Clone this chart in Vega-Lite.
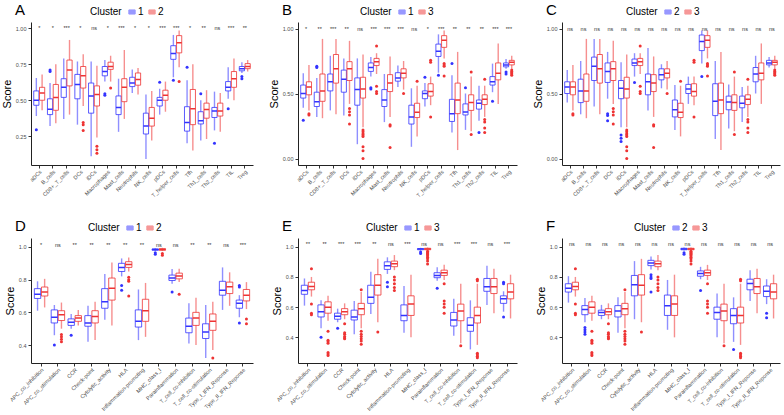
{
"$schema":"https://vega.github.io/schema/vega-lite/v6.json",
"padding":{"left":1,"top":3,"right":2,"bottom":0},
"background":"white",
"bounds":"flush",
"columns":3,
"spacing":{"row":73,"column":45},
"datasets":{
"imm":[
{"c":"aDCs","k":1,"lo":0.39,"q1":0.465,"md":0.5,"q3":0.565,"hi":0.655},
{"c":"B_cells","k":1,"lo":0.32,"q1":0.4,"md":0.437,"q3":0.51,"hi":0.62},
{"c":"CD8+_T_cells","k":1,"lo":0.37,"q1":0.52,"md":0.59,"q3":0.65,"hi":0.79},
{"c":"DCs","k":1,"lo":0.33,"q1":0.51,"md":0.61,"q3":0.68,"hi":0.77},
{"c":"iDCs","k":1,"lo":0.11,"q1":0.41,"md":0.53,"q3":0.62,"hi":0.77},
{"c":"Macrophages","k":1,"lo":0.63,"q1":0.67,"md":0.7,"q3":0.735,"hi":0.78},
{"c":"Mast_cells","k":1,"lo":0.28,"q1":0.4,"md":0.45,"q3":0.53,"hi":0.65},
{"c":"Neutrophils","k":1,"lo":0.55,"q1":0.595,"md":0.62,"q3":0.66,"hi":0.715},
{"c":"NK_cells","k":1,"lo":0.09,"q1":0.265,"md":0.32,"q3":0.41,"hi":0.54},
{"c":"pDCs","k":1,"lo":0.4,"q1":0.46,"md":0.5,"q3":0.52,"hi":0.58},
{"c":"T_helper_cells","k":1,"lo":0.66,"q1":0.785,"md":0.825,"q3":0.88,"hi":0.955},
{"c":"Tfh","k":1,"lo":0.2,"q1":0.285,"md":0.345,"q3":0.455,"hi":0.64},
{"c":"Th1_cells","k":1,"lo":0.22,"q1":0.335,"md":0.357,"q3":0.42,"hi":0.5},
{"c":"Th2_cells","k":1,"lo":0.29,"q1":0.38,"md":0.425,"q3":0.45,"hi":0.56},
{"c":"TIL","k":1,"lo":0.51,"q1":0.565,"md":0.59,"q3":0.63,"hi":0.73},
{"c":"Treg","k":1,"lo":0.69,"q1":0.705,"md":0.72,"q3":0.735,"hi":0.765},
{"c":"aDCs","k":2,"lo":0.43,"q1":0.5,"md":0.55,"q3":0.59,"hi":0.68},
{"c":"B_cells","k":2,"lo":0.34,"q1":0.43,"md":0.52,"q3":0.61,"hi":0.75},
{"c":"CD8+_T_cells","k":2,"lo":0.4,"q1":0.6,"md":0.71,"q3":0.78,"hi":0.92},
{"c":"DCs","k":2,"lo":0.46,"q1":0.585,"md":0.67,"q3":0.735,"hi":0.82},
{"c":"iDCs","k":2,"lo":0.24,"q1":0.46,"md":0.54,"q3":0.6,"hi":0.74},
{"c":"Macrophages","k":2,"lo":0.63,"q1":0.715,"md":0.735,"q3":0.765,"hi":0.81},
{"c":"Mast_cells","k":2,"lo":0.37,"q1":0.49,"md":0.59,"q3":0.65,"hi":0.85},
{"c":"Neutrophils","k":2,"lo":0.54,"q1":0.605,"md":0.645,"q3":0.69,"hi":0.725},
{"c":"NK_cells","k":2,"lo":0.22,"q1":0.32,"md":0.375,"q3":0.45,"hi":0.565},
{"c":"pDCs","k":2,"lo":0.42,"q1":0.5,"md":0.535,"q3":0.57,"hi":0.63},
{"c":"T_helper_cells","k":2,"lo":0.73,"q1":0.83,"md":0.9,"q3":0.95,"hi":0.985},
{"c":"Tfh","k":2,"lo":0.15,"q1":0.33,"md":0.44,"q3":0.575,"hi":0.75},
{"c":"Th1_cells","k":2,"lo":0.23,"q1":0.375,"md":0.435,"q3":0.48,"hi":0.57},
{"c":"Th2_cells","k":2,"lo":0.28,"q1":0.39,"md":0.425,"q3":0.48,"hi":0.55},
{"c":"TIL","k":2,"lo":0.5,"q1":0.59,"md":0.65,"q3":0.7,"hi":0.79},
{"c":"Treg","k":2,"lo":0.7,"q1":0.72,"md":0.735,"q3":0.755,"hi":0.78},
{"c":"aDCs","k":3,"lo":0.37,"q1":0.49,"md":0.55,"q3":0.59,"hi":0.72},
{"c":"B_cells","k":3,"lo":0.31,"q1":0.44,"md":0.52,"q3":0.65,"hi":0.92},
{"c":"CD8+_T_cells","k":3,"lo":0.34,"q1":0.58,"md":0.69,"q3":0.8,"hi":0.92},
{"c":"DCs","k":3,"lo":0.42,"q1":0.6,"md":0.69,"q3":0.745,"hi":0.905},
{"c":"iDCs","k":3,"lo":0.24,"q1":0.465,"md":0.535,"q3":0.625,"hi":0.8},
{"c":"Macrophages","k":3,"lo":0.65,"q1":0.715,"md":0.745,"q3":0.77,"hi":0.81},
{"c":"Mast_cells","k":3,"lo":0.32,"q1":0.515,"md":0.58,"q3":0.645,"hi":0.785},
{"c":"Neutrophils","k":3,"lo":0.53,"q1":0.62,"md":0.655,"q3":0.69,"hi":0.75},
{"c":"NK_cells","k":3,"lo":0.17,"q1":0.315,"md":0.355,"q3":0.425,"hi":0.56},
{"c":"pDCs","k":3,"lo":0.41,"q1":0.48,"md":0.515,"q3":0.575,"hi":0.63},
{"c":"T_helper_cells","k":3,"lo":0.77,"q1":0.855,"md":0.91,"q3":0.945,"hi":0.985},
{"c":"Tfh","k":3,"lo":0.065,"q1":0.345,"md":0.45,"q3":0.58,"hi":0.82},
{"c":"Th1_cells","k":3,"lo":0.21,"q1":0.37,"md":0.43,"q3":0.49,"hi":0.63},
{"c":"Th2_cells","k":3,"lo":0.32,"q1":0.415,"md":0.455,"q3":0.49,"hi":0.56},
{"c":"TIL","k":3,"lo":0.42,"q1":0.605,"md":0.655,"q3":0.735,"hi":0.885},
{"c":"Treg","k":3,"lo":0.69,"q1":0.72,"md":0.74,"q3":0.755,"hi":0.79}
],
"immOut":[
{"c":"aDCs","k":1,"v":0.295},{"c":"B_cells","k":1,"v":0.7},{"c":"B_cells","k":1,"v":0.71},
{"c":"Macrophages","k":1,"v":0.545},{"c":"Macrophages","k":1,"v":0.535},{"c":"pDCs","k":1,"v":0.625},
{"c":"T_helper_cells","k":1,"v":0.64},{"c":"Tfh","k":1,"v":0.73},{"c":"Th1_cells","k":1,"v":0.545},
{"c":"Th2_cells","k":1,"v":0.2},{"c":"TIL","k":1,"v":0.44},{"c":"Treg","k":1,"v":0.665},{"c":"Treg","k":1,"v":0.65},
{"c":"DCs","k":2,"v":0.345},{"c":"DCs","k":2,"v":0.33},{"c":"DCs","k":2,"v":0.29},
{"c":"iDCs","k":2,"v":0.18},{"c":"iDCs","k":2,"v":0.155},{"c":"iDCs","k":2,"v":0.13},
{"c":"Macrophages","k":2,"v":0.585},{"c":"T_helper_cells","k":2,"v":0.63},
{"c":"aDCs","k":3,"v":0.345},{"c":"aDCs","k":3,"v":0.335},
{"c":"DCs","k":3,"v":0.385},{"c":"DCs","k":3,"v":0.36},{"c":"DCs","k":3,"v":0.335},{"c":"DCs","k":3,"v":0.265},
{"c":"iDCs","k":3,"v":0.22},{"c":"iDCs","k":3,"v":0.205},{"c":"iDCs","k":3,"v":0.19},{"c":"iDCs","k":3,"v":0.18},{"c":"iDCs","k":3,"v":0.17},{"c":"iDCs","k":3,"v":0.09},{"c":"iDCs","k":3,"v":0.06},{"c":"iDCs","k":3,"v":0.0},
{"c":"Macrophages","k":3,"v":0.865},{"c":"Macrophages","k":3,"v":0.555},{"c":"Macrophages","k":3,"v":0.515},{"c":"Macrophages","k":3,"v":0.5},
{"c":"Mast_cells","k":3,"v":0.26},{"c":"Mast_cells","k":3,"v":0.25},{"c":"Mast_cells","k":3,"v":0.085},
{"c":"Neutrophils","k":3,"v":0.5},{"c":"NK_cells","k":3,"v":0.595},
{"c":"pDCs","k":3,"v":0.755},{"c":"pDCs","k":3,"v":0.74},{"c":"pDCs","k":3,"v":0.32},
{"c":"T_helper_cells","k":3,"v":0.73},{"c":"T_helper_cells","k":3,"v":0.72},{"c":"T_helper_cells","k":3,"v":0.71},{"c":"T_helper_cells","k":3,"v":0.635},
{"c":"Th1_cells","k":3,"v":0.665},{"c":"Th1_cells","k":3,"v":0.185},
{"c":"Th2_cells","k":3,"v":0.61},{"c":"Th2_cells","k":3,"v":0.3},{"c":"Th2_cells","k":3,"v":0.28},{"c":"Th2_cells","k":3,"v":0.235},{"c":"Th2_cells","k":3,"v":0.2},
{"c":"Treg","k":3,"v":0.68},{"c":"Treg","k":3,"v":0.67},{"c":"Treg","k":3,"v":0.66},{"c":"Treg","k":3,"v":0.65},{"c":"Treg","k":3,"v":0.64}
],
"fun":[
{"c":"APC_co_inhibition","k":1,"lo":0.61,"q1":0.685,"md":0.71,"q3":0.745,"hi":0.79},
{"c":"APC_co_stimulation","k":1,"lo":0.46,"q1":0.535,"md":0.57,"q3":0.615,"hi":0.645},
{"c":"CCR","k":1,"lo":0.5,"q1":0.52,"md":0.54,"q3":0.56,"hi":0.59},
{"c":"Check-point","k":1,"lo":0.42,"q1":0.515,"md":0.535,"q3":0.58,"hi":0.64},
{"c":"Cytolytic_activity","k":1,"lo":0.555,"q1":0.625,"md":0.665,"q3":0.745,"hi":0.835},
{"c":"HLA","k":1,"lo":0.82,"q1":0.85,"md":0.875,"q3":0.9,"hi":0.93},
{"c":"Inflammation-promoting","k":1,"lo":0.43,"q1":0.51,"md":0.545,"q3":0.615,"hi":0.74},
{"c":"MHC_class_I","k":1,"lo":0.975,"q1":0.98,"md":0.985,"q3":0.988,"hi":0.993},
{"c":"Parainflammation","k":1,"lo":0.775,"q1":0.795,"md":0.81,"q3":0.828,"hi":0.865},
{"c":"T_cell_co-inhibition","k":1,"lo":0.41,"q1":0.475,"md":0.515,"q3":0.565,"hi":0.655},
{"c":"T_cell_co-stimulation","k":1,"lo":0.32,"q1":0.44,"md":0.48,"q3":0.53,"hi":0.645},
{"c":"Type_I_IFN_Reponse","k":1,"lo":0.615,"q1":0.705,"md":0.735,"q3":0.79,"hi":0.875},
{"c":"Type_II_IFN_Reponse","k":1,"lo":0.57,"q1":0.625,"md":0.655,"q3":0.675,"hi":0.705},
{"c":"APC_co_inhibition","k":2,"lo":0.63,"q1":0.7,"md":0.725,"q3":0.755,"hi":0.805},
{"c":"APC_co_stimulation","k":2,"lo":0.5,"q1":0.55,"md":0.585,"q3":0.61,"hi":0.66},
{"c":"CCR","k":2,"lo":0.52,"q1":0.545,"md":0.565,"q3":0.58,"hi":0.615},
{"c":"Check-point","k":2,"lo":0.43,"q1":0.535,"md":0.575,"q3":0.61,"hi":0.665},
{"c":"Cytolytic_activity","k":2,"lo":0.52,"q1":0.675,"md":0.748,"q3":0.81,"hi":0.905},
{"c":"HLA","k":2,"lo":0.85,"q1":0.875,"md":0.893,"q3":0.91,"hi":0.935},
{"c":"Inflammation-promoting","k":2,"lo":0.45,"q1":0.545,"md":0.61,"q3":0.68,"hi":0.78},
{"c":"MHC_class_I","k":2,"lo":0.975,"q1":0.98,"md":0.985,"q3":0.99,"hi":0.995},
{"c":"Parainflammation","k":2,"lo":0.785,"q1":0.805,"md":0.823,"q3":0.84,"hi":0.867},
{"c":"T_cell_co-inhibition","k":2,"lo":0.4,"q1":0.52,"md":0.565,"q3":0.6,"hi":0.69},
{"c":"T_cell_co-stimulation","k":2,"lo":0.37,"q1":0.49,"md":0.545,"q3":0.59,"hi":0.665},
{"c":"Type_I_IFN_Reponse","k":2,"lo":0.64,"q1":0.715,"md":0.757,"q3":0.785,"hi":0.845},
{"c":"Type_II_IFN_Reponse","k":2,"lo":0.62,"q1":0.67,"md":0.705,"q3":0.74,"hi":0.785},
{"c":"APC_co_inhibition","k":3,"lo":0.67,"q1":0.715,"md":0.737,"q3":0.765,"hi":0.8},
{"c":"APC_co_stimulation","k":3,"lo":0.51,"q1":0.56,"md":0.6,"q3":0.635,"hi":0.675},
{"c":"CCR","k":3,"lo":0.52,"q1":0.55,"md":0.57,"q3":0.59,"hi":0.625},
{"c":"Check-point","k":3,"lo":0.46,"q1":0.55,"md":0.59,"q3":0.625,"hi":0.7},
{"c":"Cytolytic_activity","k":3,"lo":0.5,"q1":0.68,"md":0.745,"q3":0.815,"hi":0.92},
{"c":"HLA","k":3,"lo":0.845,"q1":0.868,"md":0.887,"q3":0.905,"hi":0.945},
{"c":"Inflammation-promoting","k":3,"lo":0.4,"q1":0.545,"md":0.62,"q3":0.675,"hi":0.815},
{"c":"MHC_class_I","k":3,"lo":0.975,"q1":0.98,"md":0.985,"q3":0.99,"hi":0.995},
{"c":"Parainflammation","k":3,"lo":0.78,"q1":0.81,"md":0.828,"q3":0.845,"hi":0.88},
{"c":"T_cell_co-inhibition","k":3,"lo":0.36,"q1":0.51,"md":0.575,"q3":0.62,"hi":0.755},
{"c":"T_cell_co-stimulation","k":3,"lo":0.35,"q1":0.495,"md":0.545,"q3":0.6,"hi":0.755},
{"c":"Type_I_IFN_Reponse","k":3,"lo":0.56,"q1":0.69,"md":0.735,"q3":0.79,"hi":0.855},
{"c":"Type_II_IFN_Reponse","k":3,"lo":0.525,"q1":0.655,"md":0.7,"q3":0.755,"hi":0.815}
],
"funOut":[
{"c":"APC_co_stimulation","k":1,"v":0.4},{"c":"CCR","k":1,"v":0.46},{"c":"HLA","k":1,"v":0.765},{"c":"HLA","k":1,"v":0.735},
{"c":"MHC_class_I","k":1,"v":0.965},{"c":"MHC_class_I","k":1,"v":0.955},{"c":"Parainflammation","k":1,"v":0.725},
{"c":"Type_II_IFN_Reponse","k":1,"v":0.765},{"c":"Type_II_IFN_Reponse","k":1,"v":0.755},{"c":"Type_II_IFN_Reponse","k":1,"v":0.535},
{"c":"APC_co_stimulation","k":2,"v":0.465},{"c":"APC_co_stimulation","k":2,"v":0.45},{"c":"APC_co_stimulation","k":2,"v":0.435},{"c":"APC_co_stimulation","k":2,"v":0.42},
{"c":"HLA","k":2,"v":0.815},{"c":"HLA","k":2,"v":0.8},{"c":"HLA","k":2,"v":0.79},{"c":"HLA","k":2,"v":0.7},
{"c":"MHC_class_I","k":2,"v":0.96},{"c":"MHC_class_I","k":2,"v":0.95},{"c":"Parainflammation","k":2,"v":0.71},
{"c":"T_cell_co-stimulation","k":2,"v":0.32},{"c":"Type_II_IFN_Reponse","k":2,"v":0.56},{"c":"Type_II_IFN_Reponse","k":2,"v":0.53},
{"c":"APC_co_inhibition","k":3,"v":0.855},{"c":"APC_co_inhibition","k":3,"v":0.62},{"c":"APC_co_inhibition","k":3,"v":0.56},{"c":"APC_co_inhibition","k":3,"v":0.55},
{"c":"APC_co_stimulation","k":3,"v":0.44},{"c":"APC_co_stimulation","k":3,"v":0.38},{"c":"APC_co_stimulation","k":3,"v":0.37},{"c":"APC_co_stimulation","k":3,"v":0.36},{"c":"APC_co_stimulation","k":3,"v":0.3},{"c":"APC_co_stimulation","k":3,"v":0.29},{"c":"APC_co_stimulation","k":3,"v":0.28},
{"c":"CCR","k":3,"v":0.49},{"c":"CCR","k":3,"v":0.43},{"c":"CCR","k":3,"v":0.42},{"c":"CCR","k":3,"v":0.405},{"c":"CCR","k":3,"v":0.395},{"c":"CCR","k":3,"v":0.39},
{"c":"Check-point","k":3,"v":0.715},{"c":"Check-point","k":3,"v":0.44},{"c":"Check-point","k":3,"v":0.42},{"c":"Check-point","k":3,"v":0.405},{"c":"Check-point","k":3,"v":0.39},{"c":"Check-point","k":3,"v":0.375},{"c":"Check-point","k":3,"v":0.355},
{"c":"Cytolytic_activity","k":3,"v":0.435},
{"c":"HLA","k":3,"v":0.8},{"c":"HLA","k":3,"v":0.78},{"c":"HLA","k":3,"v":0.755},{"c":"HLA","k":3,"v":0.73},{"c":"HLA","k":3,"v":0.71},
{"c":"MHC_class_I","k":3,"v":0.97},{"c":"MHC_class_I","k":3,"v":0.962},{"c":"MHC_class_I","k":3,"v":0.955},{"c":"MHC_class_I","k":3,"v":0.948},{"c":"MHC_class_I","k":3,"v":0.94},{"c":"MHC_class_I","k":3,"v":0.93},{"c":"MHC_class_I","k":3,"v":0.92},{"c":"MHC_class_I","k":3,"v":0.905},{"c":"MHC_class_I","k":3,"v":0.885},
{"c":"Parainflammation","k":3,"v":0.755},{"c":"Parainflammation","k":3,"v":0.64},{"c":"Parainflammation","k":3,"v":0.62},{"c":"Parainflammation","k":3,"v":0.6},{"c":"Parainflammation","k":3,"v":0.56},
{"c":"T_cell_co-inhibition","k":3,"v":0.345},
{"c":"T_cell_co-stimulation","k":3,"v":0.785},{"c":"T_cell_co-stimulation","k":3,"v":0.775},{"c":"T_cell_co-stimulation","k":3,"v":0.295},{"c":"T_cell_co-stimulation","k":3,"v":0.285},{"c":"T_cell_co-stimulation","k":3,"v":0.275},{"c":"T_cell_co-stimulation","k":3,"v":0.265}
],
"sig":[
{"p":"A","c":"aDCs","s":"*"},{"p":"A","c":"B_cells","s":"*"},{"p":"A","c":"CD8+_T_cells","s":"***"},{"p":"A","c":"DCs","s":"*"},{"p":"A","c":"iDCs","s":"ns"},{"p":"A","c":"Macrophages","s":"*"},{"p":"A","c":"Mast_cells","s":"***"},{"p":"A","c":"Neutrophils","s":"*"},{"p":"A","c":"NK_cells","s":"*"},{"p":"A","c":"pDCs","s":"***"},{"p":"A","c":"T_helper_cells","s":"***"},{"p":"A","c":"Tfh","s":"*"},{"p":"A","c":"Th1_cells","s":"**"},{"p":"A","c":"Th2_cells","s":"ns"},{"p":"A","c":"TIL","s":"***"},{"p":"A","c":"Treg","s":"**"},
{"p":"B","c":"aDCs","s":"*"},{"p":"B","c":"B_cells","s":"**"},{"p":"B","c":"CD8+_T_cells","s":"***"},{"p":"B","c":"DCs","s":"**"},{"p":"B","c":"iDCs","s":"ns"},{"p":"B","c":"Macrophages","s":"***"},{"p":"B","c":"Mast_cells","s":"***"},{"p":"B","c":"Neutrophils","s":"***"},{"p":"B","c":"NK_cells","s":"ns"},{"p":"B","c":"pDCs","s":"*"},{"p":"B","c":"T_helper_cells","s":"***"},{"p":"B","c":"Tfh","s":"**"},{"p":"B","c":"Th1_cells","s":"**"},{"p":"B","c":"Th2_cells","s":"**"},{"p":"B","c":"TIL","s":"***"},{"p":"B","c":"Treg","s":"***"},
{"p":"C","c":"aDCs","s":"ns"},{"p":"C","c":"B_cells","s":"ns"},{"p":"C","c":"CD8+_T_cells","s":"ns"},{"p":"C","c":"DCs","s":"ns"},{"p":"C","c":"iDCs","s":"ns"},{"p":"C","c":"Macrophages","s":"ns"},{"p":"C","c":"Mast_cells","s":"ns"},{"p":"C","c":"Neutrophils","s":"ns"},{"p":"C","c":"NK_cells","s":"ns"},{"p":"C","c":"pDCs","s":"ns"},{"p":"C","c":"T_helper_cells","s":"ns"},{"p":"C","c":"Tfh","s":"ns"},{"p":"C","c":"Th1_cells","s":"ns"},{"p":"C","c":"Th2_cells","s":"ns"},{"p":"C","c":"TIL","s":"ns"},{"p":"C","c":"Treg","s":"ns"},
{"p":"D","c":"APC_co_inhibition","s":"*"},{"p":"D","c":"APC_co_stimulation","s":"ns"},{"p":"D","c":"CCR","s":"**"},{"p":"D","c":"Check-point","s":"**"},{"p":"D","c":"Cytolytic_activity","s":"**"},{"p":"D","c":"HLA","s":"**"},{"p":"D","c":"Inflammation-promoting","s":"**"},{"p":"D","c":"MHC_class_I","s":"ns"},{"p":"D","c":"Parainflammation","s":"ns"},{"p":"D","c":"T_cell_co-inhibition","s":"**"},{"p":"D","c":"T_cell_co-stimulation","s":"**"},{"p":"D","c":"Type_I_IFN_Reponse","s":"ns"},{"p":"D","c":"Type_II_IFN_Reponse","s":"***"},
{"p":"E","c":"APC_co_inhibition","s":"**"},{"p":"E","c":"APC_co_stimulation","s":"**"},{"p":"E","c":"CCR","s":"***"},{"p":"E","c":"Check-point","s":"***"},{"p":"E","c":"Cytolytic_activity","s":"**"},{"p":"E","c":"HLA","s":"ns"},{"p":"E","c":"Inflammation-promoting","s":"***"},{"p":"E","c":"MHC_class_I","s":"ns"},{"p":"E","c":"Parainflammation","s":"ns"},{"p":"E","c":"T_cell_co-inhibition","s":"***"},{"p":"E","c":"T_cell_co-stimulation","s":"***"},{"p":"E","c":"Type_I_IFN_Reponse","s":"ns"},{"p":"E","c":"Type_II_IFN_Reponse","s":"***"},
{"p":"F","c":"APC_co_inhibition","s":"ns"},{"p":"F","c":"APC_co_stimulation","s":"ns"},{"p":"F","c":"CCR","s":"ns"},{"p":"F","c":"Check-point","s":"ns"},{"p":"F","c":"Cytolytic_activity","s":"ns"},{"p":"F","c":"HLA","s":"ns"},{"p":"F","c":"Inflammation-promoting","s":"ns"},{"p":"F","c":"MHC_class_I","s":"ns"},{"p":"F","c":"Parainflammation","s":"ns"},{"p":"F","c":"T_cell_co-inhibition","s":"ns"},{"p":"F","c":"T_cell_co-stimulation","s":"ns"},{"p":"F","c":"Type_I_IFN_Reponse","s":"ns"},{"p":"F","c":"Type_II_IFN_Reponse","s":"ns"}
]
},
"resolve":{"scale":{"x":"independent","y":"independent","xOffset":"independent","stroke":"independent","fill":"independent"},"legend":{"stroke":"independent","fill":"independent"}},
"concat":[
{"width":222,"height":143,
 "title":{"text":"A","dx":-16},
 "layer":[
  {"data":{"name":"imm"},"transform":[{"filter":{"field":"k","oneOf":[1,2]}}],"mark":{"type":"rule","strokeWidth":1.4,"strokeOpacity":0.55},
   "encoding":{"x":{"field":"c","type":"nominal","title":null,"scale":{"domain":["aDCs","B_cells","CD8+_T_cells","DCs","iDCs","Macrophages","Mast_cells","Neutrophils","NK_cells","pDCs","T_helper_cells","Tfh","Th1_cells","Th2_cells","TIL","Treg"],"paddingInner":0.2,"paddingOuter":0.2}},
    "xOffset":{"field":"k","type":"nominal","scale":{"domain":[1,2],"paddingInner":0.1}},
    "y":{"field":"lo","type":"quantitative","title":"Score","scale":{"domain":[0.049,1.045],"nice":false,"zero":false},"axis":{"values":[0.25,0.5,0.75,1],"format":".2f"}},
    "y2":{"field":"hi"},
    "stroke":{"field":"k","type":"nominal","scale":{"domain":[1,2],"range":["#3333ff","#ee3333"]},"legend":{"title":"Cluster","orient":"none","legendX":59,"legendY":-15}}}},
  {"data":{"name":"imm"},"transform":[{"filter":{"field":"k","oneOf":[1,2]}}],"mark":{"type":"bar","fill":"white","strokeWidth":1,"strokeOpacity":0.8},
   "encoding":{"x":{"field":"c","type":"nominal","title":null},"xOffset":{"field":"k","type":"nominal"},
    "y":{"field":"q1","type":"quantitative","title":"Score"},"y2":{"field":"q3"},
    "stroke":{"field":"k","type":"nominal"}}},
  {"data":{"name":"imm"},"transform":[{"filter":{"field":"k","oneOf":[1,2]}}],"mark":{"type":"bar","fillOpacity":0,"strokeWidth":1.5},
   "encoding":{"x":{"field":"c","type":"nominal","title":null},"xOffset":{"field":"k","type":"nominal"},
    "y":{"field":"md","type":"quantitative","title":"Score"},"y2":{"field":"md"},
    "stroke":{"field":"k","type":"nominal"}}},
  {"data":{"name":"immOut"},"transform":[{"filter":{"field":"k","oneOf":[1,2]}}],"mark":{"type":"circle","size":9,"opacity":1},
   "encoding":{"x":{"field":"c","type":"nominal","title":null},"xOffset":{"field":"k","type":"nominal"},
    "y":{"field":"v","type":"quantitative","title":"Score"},
    "fill":{"field":"k","type":"nominal","scale":{"domain":[1,2],"range":["#3333ff","#ee3333"]},"legend":null}}},
  {"data":{"name":"sig"},"transform":[{"filter":"datum.p==='A'"}],"mark":{"type":"text","fontSize":5.5,"fill":"#333333","baseline":"middle"},
   "encoding":{"x":{"field":"c","type":"nominal","title":null},"y":{"datum":1.0,"type":"quantitative"},"text":{"field":"s"}}}
 ]},
{"width":219,"height":143,
 "title":{"text":"B","dx":-16},
 "layer":[
  {"data":{"name":"imm"},"transform":[{"filter":{"field":"k","oneOf":[1,3]}}],"mark":{"type":"rule","strokeWidth":1.4,"strokeOpacity":0.55},
   "encoding":{"x":{"field":"c","type":"nominal","title":null,"scale":{"domain":["aDCs","B_cells","CD8+_T_cells","DCs","iDCs","Macrophages","Mast_cells","Neutrophils","NK_cells","pDCs","T_helper_cells","Tfh","Th1_cells","Th2_cells","TIL","Treg"],"paddingInner":0.2,"paddingOuter":0.2}},
    "xOffset":{"field":"k","type":"nominal","scale":{"domain":[1,3],"paddingInner":0.1}},
    "y":{"field":"lo","type":"quantitative","title":"Score","scale":{"domain":[-0.05,1.05],"nice":false,"zero":false},"axis":{"values":[0,0.25,0.5,0.75,1],"format":".2f"}},
    "y2":{"field":"hi"},
    "stroke":{"field":"k","type":"nominal","scale":{"domain":[1,3],"range":["#3333ff","#ee3333"]},"legend":{"title":"Cluster","orient":"none","legendX":62,"legendY":-15}}}},
  {"data":{"name":"imm"},"transform":[{"filter":{"field":"k","oneOf":[1,3]}}],"mark":{"type":"bar","fill":"white","strokeWidth":1,"strokeOpacity":0.8},
   "encoding":{"x":{"field":"c","type":"nominal","title":null},"xOffset":{"field":"k","type":"nominal"},
    "y":{"field":"q1","type":"quantitative","title":"Score"},"y2":{"field":"q3"},
    "stroke":{"field":"k","type":"nominal"}}},
  {"data":{"name":"imm"},"transform":[{"filter":{"field":"k","oneOf":[1,3]}}],"mark":{"type":"bar","fillOpacity":0,"strokeWidth":1.5},
   "encoding":{"x":{"field":"c","type":"nominal","title":null},"xOffset":{"field":"k","type":"nominal"},
    "y":{"field":"md","type":"quantitative","title":"Score"},"y2":{"field":"md"},
    "stroke":{"field":"k","type":"nominal"}}},
  {"data":{"name":"immOut"},"transform":[{"filter":{"field":"k","oneOf":[1,3]}}],"mark":{"type":"circle","size":9,"opacity":1},
   "encoding":{"x":{"field":"c","type":"nominal","title":null},"xOffset":{"field":"k","type":"nominal"},
    "y":{"field":"v","type":"quantitative","title":"Score"},
    "fill":{"field":"k","type":"nominal","scale":{"domain":[1,3],"range":["#3333ff","#ee3333"]},"legend":null}}},
  {"data":{"name":"sig"},"transform":[{"filter":"datum.p==='B'"}],"mark":{"type":"text","fontSize":5.5,"fill":"#333333","baseline":"middle"},
   "encoding":{"x":{"field":"c","type":"nominal","title":null},"y":{"datum":1.0,"type":"quantitative"},"text":{"field":"s"}}}
 ]},
{"width":218,"height":143,
 "title":{"text":"C","dx":-16},
 "layer":[
  {"data":{"name":"imm"},"transform":[{"filter":{"field":"k","oneOf":[2,3]}}],"mark":{"type":"rule","strokeWidth":1.4,"strokeOpacity":0.55},
   "encoding":{"x":{"field":"c","type":"nominal","title":null,"scale":{"domain":["aDCs","B_cells","CD8+_T_cells","DCs","iDCs","Macrophages","Mast_cells","Neutrophils","NK_cells","pDCs","T_helper_cells","Tfh","Th1_cells","Th2_cells","TIL","Treg"],"paddingInner":0.2,"paddingOuter":0.2}},
    "xOffset":{"field":"k","type":"nominal","scale":{"domain":[2,3],"paddingInner":0.1}},
    "y":{"field":"lo","type":"quantitative","title":"Score","scale":{"domain":[-0.05,1.05],"nice":false,"zero":false},"axis":{"values":[0,0.25,0.5,0.75,1],"format":".2f"}},
    "y2":{"field":"hi"},
    "stroke":{"field":"k","type":"nominal","scale":{"domain":[2,3],"range":["#3333ff","#ee3333"]},"legend":{"title":"Cluster","orient":"none","legendX":64,"legendY":-15}}}},
  {"data":{"name":"imm"},"transform":[{"filter":{"field":"k","oneOf":[2,3]}}],"mark":{"type":"bar","fill":"white","strokeWidth":1,"strokeOpacity":0.8},
   "encoding":{"x":{"field":"c","type":"nominal","title":null},"xOffset":{"field":"k","type":"nominal"},
    "y":{"field":"q1","type":"quantitative","title":"Score"},"y2":{"field":"q3"},
    "stroke":{"field":"k","type":"nominal"}}},
  {"data":{"name":"imm"},"transform":[{"filter":{"field":"k","oneOf":[2,3]}}],"mark":{"type":"bar","fillOpacity":0,"strokeWidth":1.5},
   "encoding":{"x":{"field":"c","type":"nominal","title":null},"xOffset":{"field":"k","type":"nominal"},
    "y":{"field":"md","type":"quantitative","title":"Score"},"y2":{"field":"md"},
    "stroke":{"field":"k","type":"nominal"}}},
  {"data":{"name":"immOut"},"transform":[{"filter":{"field":"k","oneOf":[2,3]}}],"mark":{"type":"circle","size":9,"opacity":1},
   "encoding":{"x":{"field":"c","type":"nominal","title":null},"xOffset":{"field":"k","type":"nominal"},
    "y":{"field":"v","type":"quantitative","title":"Score"},
    "fill":{"field":"k","type":"nominal","scale":{"domain":[2,3],"range":["#3333ff","#ee3333"]},"legend":null}}},
  {"data":{"name":"sig"},"transform":[{"filter":"datum.p==='C'"}],"mark":{"type":"text","fontSize":5.5,"fill":"#333333","baseline":"middle"},
   "encoding":{"x":{"field":"c","type":"nominal","title":null},"y":{"datum":1.0,"type":"quantitative"},"text":{"field":"s"}}}
 ]},
{"width":222,"height":125,
 "title":{"text":"D","dx":-16},
 "layer":[
  {"data":{"name":"fun"},"transform":[{"filter":{"field":"k","oneOf":[1,2]}}],"mark":{"type":"rule","strokeWidth":1.4,"strokeOpacity":0.55},
   "encoding":{"x":{"field":"c","type":"nominal","title":null,"scale":{"domain":["APC_co_inhibition","APC_co_stimulation","CCR","Check-point","Cytolytic_activity","HLA","Inflammation-promoting","MHC_class_I","Parainflammation","T_cell_co-inhibition","T_cell_co-stimulation","Type_I_IFN_Reponse","Type_II_IFN_Reponse"],"paddingInner":0.2,"paddingOuter":0.2}},
    "xOffset":{"field":"k","type":"nominal","scale":{"domain":[1,2],"paddingInner":0.1}},
    "y":{"field":"lo","type":"quantitative","title":"Score","scale":{"domain":[0.29,1.055],"nice":false,"zero":false},"axis":{"values":[0.4,0.6,0.8,1],"format":".1f"}},
    "y2":{"field":"hi"},
    "stroke":{"field":"k","type":"nominal","scale":{"domain":[1,2],"range":["#3333ff","#ee3333"]},"legend":{"title":"Cluster","orient":"none","legendX":57,"legendY":-15}}}},
  {"data":{"name":"fun"},"transform":[{"filter":{"field":"k","oneOf":[1,2]}}],"mark":{"type":"bar","fill":"white","strokeWidth":1,"strokeOpacity":0.8},
   "encoding":{"x":{"field":"c","type":"nominal","title":null},"xOffset":{"field":"k","type":"nominal"},
    "y":{"field":"q1","type":"quantitative","title":"Score"},"y2":{"field":"q3"},
    "stroke":{"field":"k","type":"nominal"}}},
  {"data":{"name":"fun"},"transform":[{"filter":{"field":"k","oneOf":[1,2]}}],"mark":{"type":"bar","fillOpacity":0,"strokeWidth":1.5},
   "encoding":{"x":{"field":"c","type":"nominal","title":null},"xOffset":{"field":"k","type":"nominal"},
    "y":{"field":"md","type":"quantitative","title":"Score"},"y2":{"field":"md"},
    "stroke":{"field":"k","type":"nominal"}}},
  {"data":{"name":"funOut"},"transform":[{"filter":{"field":"k","oneOf":[1,2]}}],"mark":{"type":"circle","size":9,"opacity":1},
   "encoding":{"x":{"field":"c","type":"nominal","title":null},"xOffset":{"field":"k","type":"nominal"},
    "y":{"field":"v","type":"quantitative","title":"Score"},
    "fill":{"field":"k","type":"nominal","scale":{"domain":[1,2],"range":["#3333ff","#ee3333"]},"legend":null}}},
  {"data":{"name":"sig"},"transform":[{"filter":"datum.p==='D'"}],"mark":{"type":"text","fontSize":5.5,"fill":"#333333","baseline":"middle"},
   "encoding":{"x":{"field":"c","type":"nominal","title":null},"y":{"datum":1.015,"type":"quantitative"},"text":{"field":"s"}}}
 ]},
{"width":219,"height":125,
 "title":{"text":"E","dx":-16},
 "layer":[
  {"data":{"name":"fun"},"transform":[{"filter":{"field":"k","oneOf":[1,3]}}],"mark":{"type":"rule","strokeWidth":1.4,"strokeOpacity":0.55},
   "encoding":{"x":{"field":"c","type":"nominal","title":null,"scale":{"domain":["APC_co_inhibition","APC_co_stimulation","CCR","Check-point","Cytolytic_activity","HLA","Inflammation-promoting","MHC_class_I","Parainflammation","T_cell_co-inhibition","T_cell_co-stimulation","Type_I_IFN_Reponse","Type_II_IFN_Reponse"],"paddingInner":0.2,"paddingOuter":0.2}},
    "xOffset":{"field":"k","type":"nominal","scale":{"domain":[1,3],"paddingInner":0.1}},
    "y":{"field":"lo","type":"quantitative","title":"Score","scale":{"domain":[0.23,1.058],"nice":false,"zero":false},"axis":{"values":[0.4,0.6,0.8,1],"format":".1f"}},
    "y2":{"field":"hi"},
    "stroke":{"field":"k","type":"nominal","scale":{"domain":[1,3],"range":["#3333ff","#ee3333"]},"legend":{"title":"Cluster","orient":"none","legendX":68,"legendY":-15}}}},
  {"data":{"name":"fun"},"transform":[{"filter":{"field":"k","oneOf":[1,3]}}],"mark":{"type":"bar","fill":"white","strokeWidth":1,"strokeOpacity":0.8},
   "encoding":{"x":{"field":"c","type":"nominal","title":null},"xOffset":{"field":"k","type":"nominal"},
    "y":{"field":"q1","type":"quantitative","title":"Score"},"y2":{"field":"q3"},
    "stroke":{"field":"k","type":"nominal"}}},
  {"data":{"name":"fun"},"transform":[{"filter":{"field":"k","oneOf":[1,3]}}],"mark":{"type":"bar","fillOpacity":0,"strokeWidth":1.5},
   "encoding":{"x":{"field":"c","type":"nominal","title":null},"xOffset":{"field":"k","type":"nominal"},
    "y":{"field":"md","type":"quantitative","title":"Score"},"y2":{"field":"md"},
    "stroke":{"field":"k","type":"nominal"}}},
  {"data":{"name":"funOut"},"transform":[{"filter":{"field":"k","oneOf":[1,3]}}],"mark":{"type":"circle","size":9,"opacity":1},
   "encoding":{"x":{"field":"c","type":"nominal","title":null},"xOffset":{"field":"k","type":"nominal"},
    "y":{"field":"v","type":"quantitative","title":"Score"},
    "fill":{"field":"k","type":"nominal","scale":{"domain":[1,3],"range":["#3333ff","#ee3333"]},"legend":null}}},
  {"data":{"name":"sig"},"transform":[{"filter":"datum.p==='E'"}],"mark":{"type":"text","fontSize":5.5,"fill":"#333333","baseline":"middle"},
   "encoding":{"x":{"field":"c","type":"nominal","title":null},"y":{"datum":1.015,"type":"quantitative"},"text":{"field":"s"}}}
 ]},
{"width":218,"height":125,
 "title":{"text":"F","dx":-16},
 "layer":[
  {"data":{"name":"fun"},"transform":[{"filter":{"field":"k","oneOf":[2,3]}}],"mark":{"type":"rule","strokeWidth":1.4,"strokeOpacity":0.55},
   "encoding":{"x":{"field":"c","type":"nominal","title":null,"scale":{"domain":["APC_co_inhibition","APC_co_stimulation","CCR","Check-point","Cytolytic_activity","HLA","Inflammation-promoting","MHC_class_I","Parainflammation","T_cell_co-inhibition","T_cell_co-stimulation","Type_I_IFN_Reponse","Type_II_IFN_Reponse"],"paddingInner":0.2,"paddingOuter":0.2}},
    "xOffset":{"field":"k","type":"nominal","scale":{"domain":[2,3],"paddingInner":0.1}},
    "y":{"field":"lo","type":"quantitative","title":"Score","scale":{"domain":[0.23,1.058],"nice":false,"zero":false},"axis":{"values":[0.4,0.6,0.8,1],"format":".1f"}},
    "y2":{"field":"hi"},
    "stroke":{"field":"k","type":"nominal","scale":{"domain":[2,3],"range":["#3333ff","#ee3333"]},"legend":{"title":"Cluster","orient":"none","legendX":72,"legendY":-15}}}},
  {"data":{"name":"fun"},"transform":[{"filter":{"field":"k","oneOf":[2,3]}}],"mark":{"type":"bar","fill":"white","strokeWidth":1,"strokeOpacity":0.8},
   "encoding":{"x":{"field":"c","type":"nominal","title":null},"xOffset":{"field":"k","type":"nominal"},
    "y":{"field":"q1","type":"quantitative","title":"Score"},"y2":{"field":"q3"},
    "stroke":{"field":"k","type":"nominal"}}},
  {"data":{"name":"fun"},"transform":[{"filter":{"field":"k","oneOf":[2,3]}}],"mark":{"type":"bar","fillOpacity":0,"strokeWidth":1.5},
   "encoding":{"x":{"field":"c","type":"nominal","title":null},"xOffset":{"field":"k","type":"nominal"},
    "y":{"field":"md","type":"quantitative","title":"Score"},"y2":{"field":"md"},
    "stroke":{"field":"k","type":"nominal"}}},
  {"data":{"name":"funOut"},"transform":[{"filter":{"field":"k","oneOf":[2,3]}}],"mark":{"type":"circle","size":9,"opacity":1},
   "encoding":{"x":{"field":"c","type":"nominal","title":null},"xOffset":{"field":"k","type":"nominal"},
    "y":{"field":"v","type":"quantitative","title":"Score"},
    "fill":{"field":"k","type":"nominal","scale":{"domain":[2,3],"range":["#3333ff","#ee3333"]},"legend":null}}},
  {"data":{"name":"sig"},"transform":[{"filter":"datum.p==='F'"}],"mark":{"type":"text","fontSize":5.5,"fill":"#333333","baseline":"middle"},
   "encoding":{"x":{"field":"c","type":"nominal","title":null},"y":{"datum":1.015,"type":"quantitative"},"text":{"field":"s"}}}
 ]}
],
"config":{
 "font":"Liberation Sans",
 "view":{"stroke":null},
 "title":{"anchor":"start","frame":"group","fontSize":15,"fontWeight":"normal","color":"#000","offset":-11},
 "axis":{"grid":false,"domainColor":"#222","domainWidth":1,"tickColor":"#333","tickSize":3,"labelColor":"#4d4d4d","labelFontSize":5.5,"titleFontSize":11,"titleFontWeight":"normal","titleColor":"#000","labelOverlap":false,"labelBound":false},
 "axisX":{"labelAngle":-45,"labelAlign":"right","labelBaseline":"top","labelPadding":1},
 "axisY":{"titlePadding":3,"labelPadding":2},
 "legend":{"direction":"horizontal","titleOrient":"left","titleFontSize":10,"titleFontWeight":"normal","titleColor":"#000","labelFontSize":10,"labelColor":"#000","symbolType":"M-1,-0.65H1V0.65H-1Z","symbolSize":40,"symbolStrokeWidth":1,"symbolOpacity":0.5,"columnPadding":2,"labelOffset":1,"titlePadding":5}
}
}
